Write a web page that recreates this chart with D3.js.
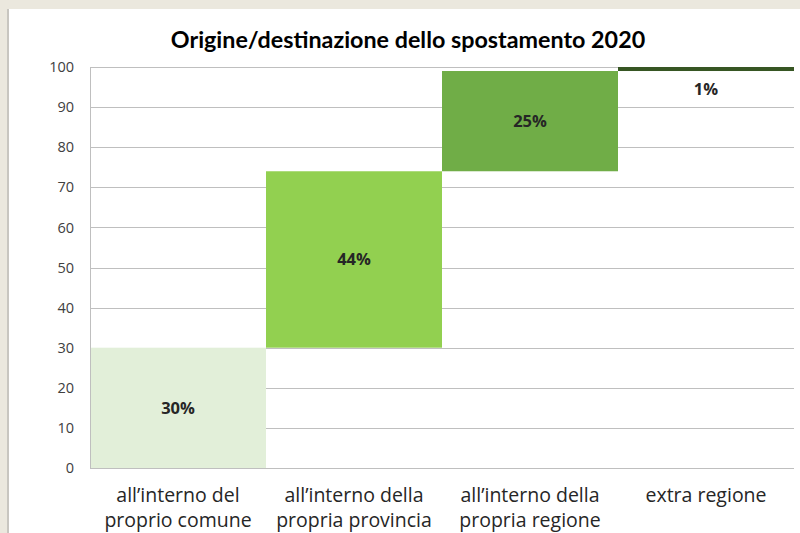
<!DOCTYPE html>
<html><head><meta charset="utf-8">
<script src="https://cdn.jsdelivr.net/npm/d3@7"></script>
<style>
html,body{margin:0;padding:0;background:#ebe8de;}
svg{display:block;}
</style></head>
<body>
<svg id="chart" width="800" height="533"></svg>
<script>
const title = "Origine/destinazione dello spostamento 2020";
const categories = [["all’interno del","proprio comune"],["all’interno della","propria provincia"],["all’interno della","propria regione"],["extra regione"]];
const values = [30, 44, 25, 1];
const valueLabels = ["30%","44%","25%","1%"];
const colors = ["#e2efd9","#92d050","#70ad47","#375623"];
const yTicks = [0,10,20,30,40,50,60,70,80,90,100];

const svg = d3.select("#chart");
const font = "Lato, 'Open Sans', sans-serif";
const font2 = "'Open Sans', Lato, sans-serif";

// panel
svg.append("rect").attr("x",0).attr("y",0).attr("width",800).attr("height",533).attr("fill","#ebe8de");
svg.append("rect").attr("x",7).attr("y",9).attr("width",793).attr("height",524).attr("fill","#c8c6c0");
svg.append("rect").attr("x",9).attr("y",9).attr("width",791).attr("height",524).attr("fill","#ffffff");

const m = {left:90, right:794, top:67, bottom:468};
const x = d3.scaleBand().domain(d3.range(categories.length)).range([m.left,m.right]).padding(0);
const y = d3.scaleLinear().domain([0,100]).range([m.bottom,m.top]);

const bases = values.map((v,i)=> i===0 ? 0 : d3.sum(values.slice(0,i)));

// gridlines
svg.append("g").selectAll("line").data(yTicks).join("line")
  .attr("x1",m.left).attr("x2",m.right)
  .attr("y1",d=>Math.round(y(d))+0.5).attr("y2",d=>Math.round(y(d))+0.5)
  .attr("stroke","#bfbfbf").attr("stroke-width",1);

// bars
svg.append("g").selectAll("rect").data(values).join("rect")
  .attr("x",(d,i)=>x(i)).attr("width",x.bandwidth())
  .attr("y",(d,i)=>y(bases[i]+d)).attr("height",(d,i)=>y(bases[i])-y(bases[i]+d))
  .attr("fill",(d,i)=>colors[i]);

// left axis line
svg.append("line").attr("x1",m.left+0.5).attr("x2",m.left+0.5).attr("y1",m.top).attr("y2",m.bottom)
  .attr("stroke","#bfbfbf");
// bottom axis line
svg.append("line").attr("x1",m.left).attr("x2",m.right).attr("y1",m.bottom+0.5).attr("y2",m.bottom+0.5)
  .attr("stroke","#bfbfbf");

// y axis via d3.axisLeft
const yAxis = svg.append("g").attr("transform",`translate(${m.left-16},0)`)
  .call(d3.axisLeft(y).tickValues(yTicks).tickSize(0).tickPadding(0).tickFormat(d3.format("d")));
yAxis.select(".domain").remove();
yAxis.selectAll("text").attr("font-family",font2).attr("font-size","14.5px").attr("fill","#404040");

// value labels
svg.append("g").selectAll("text").data(values).join("text")
  .attr("x",(d,i)=>x(i)+x.bandwidth()/2)
  .attr("y",(d,i)=> d < 5 ? y(bases[i]) + 18 : y(bases[i]+d/2))
  .attr("dy","0.35em").attr("text-anchor","middle")
  .attr("font-family",font2).attr("font-weight","bold").attr("font-size","16.5px").attr("fill","#262626")
  .text((d,i)=>valueLabels[i]);

// category labels
const cat = svg.append("g").selectAll("text").data(categories).join("text")
  .attr("x",(d,i)=>x(i)+x.bandwidth()/2).attr("y",502)
  .attr("text-anchor","middle").attr("font-family",font2).attr("font-size","19.5px").attr("fill","#262626");
cat.selectAll("tspan").data(d=>d).join("tspan")
  .attr("x",function(){return this.parentNode.getAttribute("x");})
  .attr("dy",(d,i)=> i===0 ? 0 : 25)
  .text(d=>d);

// title
svg.append("text").attr("x",408).attr("y",48).attr("text-anchor","middle")
  .attr("font-family",font).attr("font-weight","bold").attr("font-size","23.3px").attr("fill","#000")
  .text(title);
</script>
</body></html>
